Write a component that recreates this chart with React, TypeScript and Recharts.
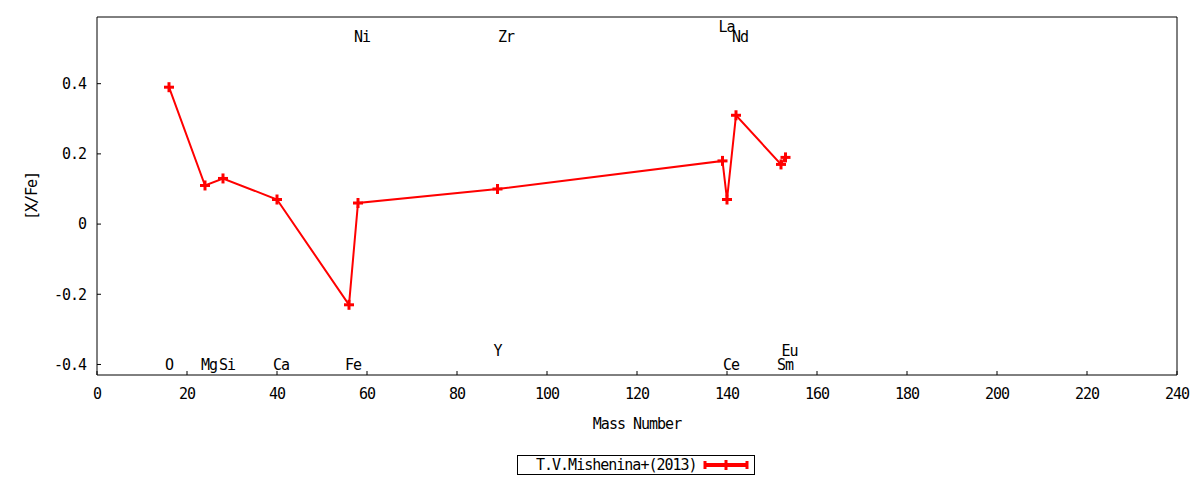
import React from "react";
import { ComposedChart, Line, Scatter, XAxis, YAxis, Legend, Label } from "recharts";

// abundances [X/Fe] vs mass number
const masses = [16, 24, 28, 40, 56, 58, 89, 139, 140, 142, 152, 153];
const xFe = [0.39, 0.11, 0.13, 0.07, -0.23, 0.06, 0.1, 0.18, 0.07, 0.31, 0.17, 0.19];

// element name labels, placed at (mass, level) in data units
const labelNames = ["O", "Mg", "Si", "Ca", "Fe", "Ni", "Y", "Zr", "La", "Ce", "Nd", "Sm", "Eu"];
const labelMasses = [16, 24, 28, 40, 56, 58, 89, 90, 139, 140, 142, 152, 153];
const labelLevels = [-0.4, -0.4, -0.4, -0.4, -0.4, 0.534, -0.36, 0.534, 0.562, -0.4, 0.534, -0.4, -0.36];

const xTicks = [0, 20, 40, 60, 80, 100, 120, 140, 160, 180, 200, 220, 240];
const yTicks = [-0.4, -0.2, 0, 0.2, 0.4];

const seriesName = "T.V.Mishenina+(2013)";
const RED = "#ff0000";
const FONT = '"DejaVu Sans Mono", monospace';

const lineData = masses.map((m, i) => ({ x: m, y: xFe[i] }));
const labelData = labelNames.map((name, i) => ({ x: labelMasses[i], y: labelLevels[i], name }));

const PlusDot = (props: any) => {
  const { cx, cy, index } = props;
  if (cx == null || cy == null) return <g key={`d-${index}`} />;
  return (
    <g key={`d-${index}`}>
      <line x1={cx - 5} x2={cx + 5} y1={cy} y2={cy} stroke={RED} strokeWidth={3} />
      <line x1={cx} x2={cx} y1={cy - 5} y2={cy + 5} stroke={RED} strokeWidth={3} />
    </g>
  );
};

const ElementLabel = (props: any) => {
  const { cx, cy, payload } = props;
  return (
    <text x={cx - 4} y={cy} dy="0.36em" fill="#000" fontSize={15} fontFamily={FONT} style={{ letterSpacing: "-1px" }}>
      {payload.name}
    </text>
  );
};

const LegendBox = () => (
  <div
    style={{
      position: "relative",
      width: 238,
      height: 20,
      boxSizing: "border-box",
      border: "1px solid #000",
      background: "#fff",
    }}
  >
    <span style={{ position: "absolute", left: 18, top: 0, lineHeight: "18px", whiteSpace: "nowrap" }}>
      {seriesName}
    </span>
    <svg width={50} height={18} style={{ position: "absolute", left: 185, top: 0 }}>
      <line x1={2} x2={44} y1={9} y2={9} stroke={RED} strokeWidth={4} />
      <line x1={2} x2={2} y1={5} y2={13} stroke={RED} strokeWidth={3} />
      <line x1={44} x2={44} y1={5} y2={13} stroke={RED} strokeWidth={3} />
      <line x1={23} x2={23} y1={4} y2={14} stroke={RED} strokeWidth={3} />
    </svg>
  </div>
);

export default function App() {
  return (
    <div
      style={{
        position: "absolute",
        left: 0,
        top: 0,
        width: 1200,
        height: 480,
        background: "#fff",
        fontFamily: FONT,
        fontSize: 15,
        letterSpacing: "-1px",
        color: "#000",
      }}
    >
      <ComposedChart width={1200} height={480} margin={{ top: 16, right: 22, bottom: 104, left: 96 }}>
        <XAxis
          dataKey="x"
          type="number"
          domain={[0, 240]}
          ticks={xTicks}
          interval={0}
          allowDataOverflow
          height={1}
          tickSize={-4}
          tickMargin={17}
          tick={{ fill: "#000", fontSize: 15 }}
          axisLine={{ stroke: "#000" }}
          tickLine={{ stroke: "#000" }}
        >
          <Label value="Mass Number" position="bottom" offset={42} fill="#000" fontSize={15} />
        </XAxis>
        <XAxis
          xAxisId="top"
          orientation="top"
          type="number"
          domain={[0, 240]}
          ticks={xTicks}
          interval={0}
          allowDataOverflow
          height={1}
          tickSize={-4}
          tick={false}
          axisLine={{ stroke: "#000" }}
          tickLine={{ stroke: "#000" }}
        />
        <YAxis
          dataKey="y"
          type="number"
          domain={[-0.43, 0.59]}
          ticks={yTicks}
          interval={0}
          allowDataOverflow
          width={1}
          tickSize={-4}
          tickMargin={15}
          tick={{ fill: "#000", fontSize: 15 }}
          axisLine={{ stroke: "#000" }}
          tickLine={{ stroke: "#000" }}
        >
          <Label value="[X/Fe]" angle={-90} position="left" offset={64} textAnchor="middle" fill="#000" fontSize={15} />
        </YAxis>
        <YAxis
          yAxisId="right"
          orientation="right"
          type="number"
          domain={[-0.43, 0.59]}
          ticks={yTicks}
          interval={0}
          allowDataOverflow
          width={1}
          tickSize={-4}
          tick={false}
          axisLine={{ stroke: "#000" }}
          tickLine={{ stroke: "#000" }}
        />
        <Scatter data={labelData} shape={ElementLabel} isAnimationActive={false} legendType="none" />
        <Line
          data={lineData}
          dataKey="y"
          name={seriesName}
          stroke={RED}
          strokeWidth={2}
          dot={PlusDot}
          activeDot={false}
          isAnimationActive={false}
        />
        <Legend
          layout="horizontal"
          verticalAlign="middle"
          align="center"
          content={LegendBox}
          wrapperStyle={{ top: 455, left: 517, width: 238, height: 20 }}
        />
      </ComposedChart>
    </div>
  );
}
